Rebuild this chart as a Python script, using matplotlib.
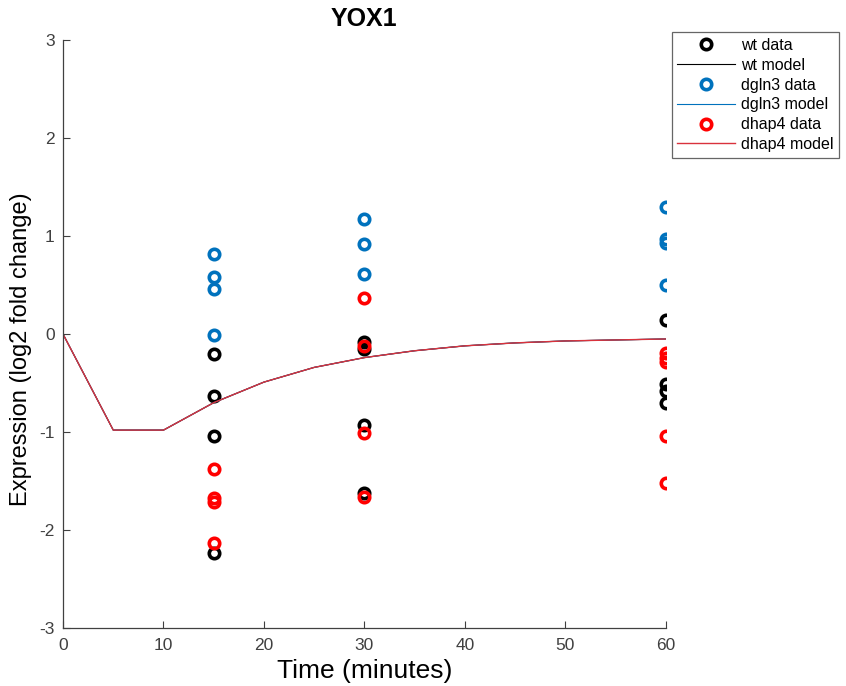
import numpy as np
import matplotlib
matplotlib.use("Agg")
import matplotlib.pyplot as plt

plt.rcParams['font.family'] = ['Liberation Sans', 'DejaVu Sans']
plt.rcParams['axes.unicode_minus'] = False

# model curve (same for all strains, only the last drawn is visible)
model_t = [0, 5, 10, 15, 20, 25, 30, 35, 40, 45, 50, 55, 60]
model_y = [0, -0.98, -0.98, -0.70, -0.49, -0.34, -0.24, -0.17, -0.12, -0.09, -0.07, -0.06, -0.05]

# measured data
wt_t = [15, 15, 15, 15, 30, 30, 30, 30, 60, 60, 60, 60]
wt_y = [-0.20, -0.63, -1.04, -2.23, -0.08, -0.15, -0.93, -1.62, 0.14, -0.51, -0.58, -0.70]

dgln3_t = [15, 15, 15, 15, 30, 30, 30, 60, 60, 60, 60]
dgln3_y = [0.82, 0.58, 0.46, -0.01, 1.17, 0.92, 0.61, 1.30, 0.97, 0.93, 0.50]

dhap4_t = [15, 15, 15, 15, 30, 30, 30, 30, 60, 60, 60, 60, 60]
dhap4_y = [-1.38, -1.67, -1.71, -2.13, 0.37, -0.12, -1.01, -1.66, -0.19, -0.24, -0.28, -1.04, -1.52]

fig = plt.figure(figsize=(8.46, 6.86), dpi=100)
ax = fig.add_axes([0.0745, 0.0845, 0.7125, 0.857])

mk = dict(marker='o', linestyle='none', markersize=7.5, markerfacecolor='none',
          markeredgewidth=2.6)

ax.plot(wt_t, wt_y, color='black', label='wt data', **mk)
ax.plot(model_t, model_y, color='black', linewidth=0.8, label='wt model')
ax.plot(dgln3_t, dgln3_y, color='#0072BD', label='dgln3 data', **mk)
ax.plot(model_t, model_y, color='#0072BD', linewidth=0.8, label='dgln3 model')
ax.plot(dhap4_t, dhap4_y, color='#FF0000', label='dhap4 data', **mk)
ax.plot(model_t, model_y, color='#D9323C', linewidth=1.0, label='dhap4 model')

ax.set_xlim(0, 60)
ax.set_ylim(-3, 3)
ax.set_xticks(range(0, 61, 10))
ax.set_yticks(range(-3, 4))
ax.spines['top'].set_visible(False)
ax.spines['right'].set_visible(False)
for s in ['left', 'bottom']:
    ax.spines[s].set_color('#404040')
    ax.spines[s].set_linewidth(0.9)
ax.tick_params(direction='in', length=5, labelsize=12.5, colors='#404040', pad=6)
ax.tick_params(axis='x', pad=7)

ax.set_title('YOX1', fontsize=18, fontweight='bold', pad=10)
ax.set_xlabel('Time (minutes)', fontsize=19)
ax.set_ylabel('Expression (log2 fold change)', fontsize=17)
ax.xaxis.set_label_coords(0.5, -0.053)
ax.yaxis.set_label_coords(-0.052, 0.475)

leg = ax.legend(loc='upper left', bbox_to_anchor=(1.01, 1.013), fontsize=11.5,
                frameon=True, fancybox=False, edgecolor='#404040',
                handlelength=3.6, borderpad=0.35, labelspacing=0.3,
                handletextpad=0.4, borderaxespad=0)
leg.get_frame().set_linewidth(0.9)

fig.savefig('out.png', dpi=100)
